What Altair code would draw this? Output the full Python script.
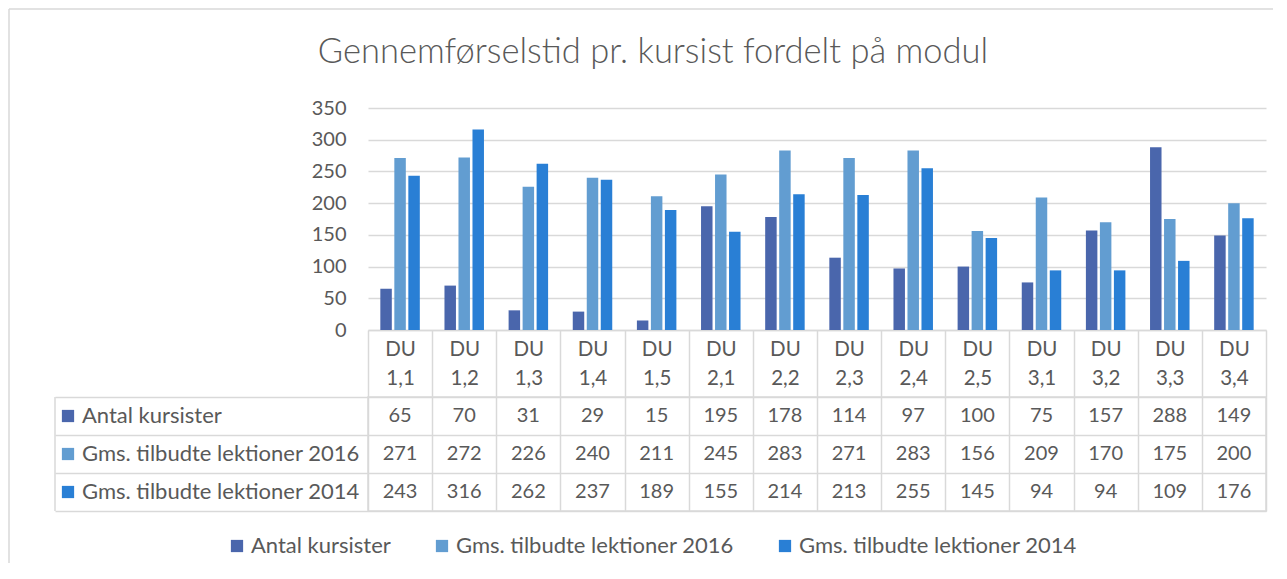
import altair as alt
import pandas as pd

title_text = ["Gennemførselstid pr. kursist fordelt på modul"]
categories = ["DU 1,1", "DU 1,2", "DU 1,3", "DU 1,4", "DU 1,5", "DU 2,1", "DU 2,2",
              "DU 2,3", "DU 2,4", "DU 2,5", "DU 3,1", "DU 3,2", "DU 3,3", "DU 3,4"]
series = ["Antal kursister", "Gms. tilbudte lektioner 2016", "Gms. tilbudte lektioner 2014"]
antal = [65, 70, 31, 29, 15, 195, 178, 114, 97, 100, 75, 157, 288, 149]
gms2016 = [271, 272, 226, 240, 211, 245, 283, 271, 283, 156, 209, 170, 175, 200]
gms2014 = [243, 316, 262, 237, 189, 155, 214, 213, 255, 145, 94, 94, 109, 176]
colors = ["#4A66AC", "#629DD1", "#297FD5"]
y_ticks = [0, 50, 100, 150, 200, 250, 300, 350]

rows = []
for s, vals in zip(series, [antal, gms2016, gms2014]):
    for c, v in zip(categories, vals):
        rows.append({"cat": c, "series": s, "value": v})
df = pd.DataFrame(rows)
lab_df = pd.DataFrame({"series": series, "color": colors})
one = pd.DataFrame({"t": title_text})

FONT = "Lato"
GRAY = "#595959"
LINE = "#d9d9d9"
W = 898
H = 222
HEADER = 67

bars = alt.Chart(df).mark_bar().encode(
    x=alt.X("cat:N", sort=categories, title=None,
            scale=alt.Scale(paddingInner=0, paddingOuter=0),
            axis=alt.Axis(labelExpr="split(datum.label, ' ')", labelAngle=0,
                          tickBand="extent", tickSize=HEADER, tickColor=LINE, tickWidth=1.5,
                          domainColor=LINE, domainWidth=1.5,
                          labelPadding=-58, labelBaseline="top", labelLineHeight=29,
                          labelFont=FONT, labelFontSize=20.5, labelColor=GRAY)),
    xOffset=alt.XOffset("series:N", sort=series,
                        scale=alt.Scale(paddingInner=0.18, paddingOuter=0.88)),
    y=alt.Y("value:Q", title=None,
            scale=alt.Scale(domain=[0, 350], nice=False),
            axis=alt.Axis(values=y_ticks, grid=True, gridColor=LINE, gridWidth=1.5,
                          domain=False, ticks=False, tickSize=0, labelPadding=22,
                          labelFont=FONT, labelFontSize=20, labelColor=GRAY)),
    color=alt.Color("series:N", sort=series, title=None,
                    scale=alt.Scale(domain=series, range=colors),
                    legend=alt.Legend(orient="none", direction="horizontal",
                                      legendX=-142, legendY=427,
                                      symbolType="square", symbolSize=150,
                                      symbolStrokeWidth=0, labelFont=FONT,
                                      labelFontSize=22, labelColor=GRAY,
                                      labelLimit=0, columnPadding=40, labelOffset=3)),
)

# chart title (as text inside the chart-area frame)
title = alt.Chart(one).mark_text(font=FONT, fontSize=34.5, fontWeight=300, color=GRAY,
                                 align="center", baseline="middle").encode(
    text="t:N", x=alt.value(285), y=alt.value(-55))

# chart-area frame (top and left edges, as in the source picture)
frame_top = alt.Chart(one).mark_rule(color=LINE, strokeWidth=1.5).encode(
    x=alt.value(-359), x2=alt.value(905), y=alt.value(-99))
frame_left = alt.Chart(one).mark_rule(color=LINE, strokeWidth=1.5).encode(
    x=alt.value(-359), y=alt.value(-99), y2=alt.value(455))

top = alt.layer(bars, title, frame_top, frame_left).properties(width=W, height=H)

base_t = alt.Chart(df).encode(
    x=alt.X("cat:N", sort=categories, title=None,
            scale=alt.Scale(paddingInner=0, paddingOuter=0),
            axis=alt.Axis(grid=True, tickBand="extent", gridColor=LINE, gridWidth=1.5,
                          labels=False, ticks=False, domain=False)),
    y=alt.Y("series:N", sort=series, title=None,
            axis=alt.Axis(grid=True, tickBand="extent", gridColor=LINE, gridWidth=1.5,
                          labels=False, ticks=True, tickSize=313, tickColor=LINE,
                          tickWidth=1.5, domain=False)),
)
vals_text = base_t.mark_text(font=FONT, fontSize=20, color=GRAY, baseline="middle").encode(
    text="value:Q")

row_labels = alt.Chart(lab_df).mark_text(font=FONT, fontSize=22, color=GRAY,
                                         align="left", baseline="middle").encode(
    y=alt.Y("series:N", sort=series), x=alt.value(-286), text="series:N")
row_squares = alt.Chart(lab_df).mark_square(size=150, opacity=1).encode(
    y=alt.Y("series:N", sort=series), x=alt.value(-300),
    color=alt.Color("color:N", scale=None, legend=None))
left_border = alt.Chart(lab_df.head(1)).mark_rule(color=LINE, strokeWidth=1.5).encode(
    x=alt.value(-313), y=alt.value(0), y2=alt.value(114))

table = alt.layer(vals_text, row_labels, row_squares, left_border).properties(
    width=W, height=114, view=alt.ViewBackground(stroke=LINE, strokeWidth=1.5))

chart = alt.vconcat(top, table, spacing=HEADER, bounds="flush").properties(
    padding={"left": 0, "top": 0, "right": 0, "bottom": 0},
).configure_view(stroke=None)

chart.save("out.html", embed_options={"renderer": "svg", "actions": False})
